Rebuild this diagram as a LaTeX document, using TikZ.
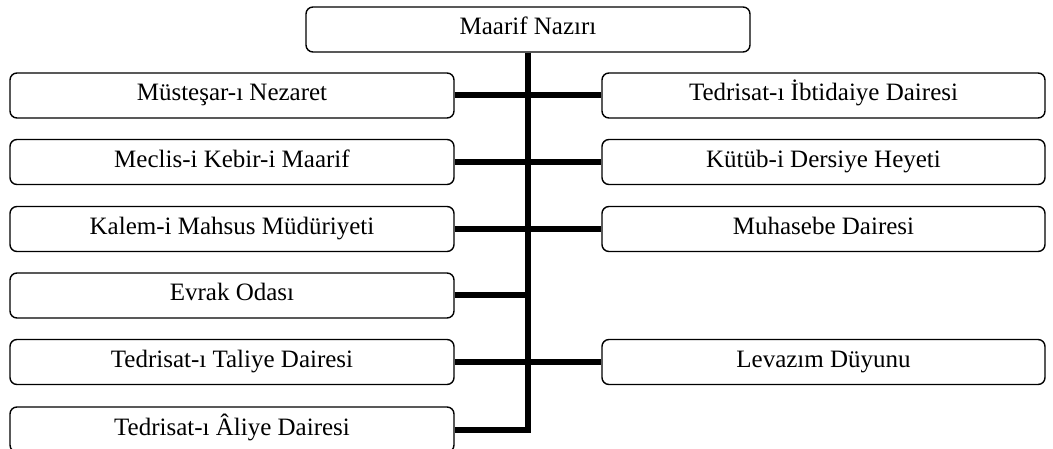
\documentclass[tikz,border=0pt]{standalone}
\usepackage{fontspec}
\setmainfont{Liberation Serif}
\usepackage{tikz}

\begin{document}
\begin{tikzpicture}[x=1pt,y=1pt,yscale=-1,xscale=1,
  unit/.style={draw, rounded corners=7pt, line width=1.4pt, minimum width=444pt, minimum height=45pt, inner sep=0pt, text height=17pt, text depth=6pt, font=\fontsize{25}{30}\selectfont},
  link/.style={line width=6pt}]
%set diagram left start at 0, and has height of 449
\useasboundingbox (0,0) rectangle (1053,449);

% Text Node
\node [unit] (nazir) at (528,29.5) {Maarif Nazırı};
% Text Node
\node [unit] (mustesar) at (232,95.5) {Müsteşar-ı Nezaret};
% Text Node
\node [unit] (meclis) at (232,162) {Meclis-i Kebir-i Maarif};
% Text Node
\node [unit] (kalem) at (232,229) {Kalem-i Mahsus Müdüriyeti};
% Text Node
\node [unit] (evrak) at (232,295.5) {Evrak Odası};
% Text Node
\node [unit] (taliye) at (232,362) {Tedrisat-ı Taliye Dairesi};
% Text Node
\node [unit] (aliye) at (232,429.5) {Tedrisat-ı Âliye Dairesi};
% Text Node
\node [unit, minimum width=443pt] (ibtidai) at (823.5,95.5) {Tedrisat-ı İbtidaiye Dairesi};
% Text Node
\node [unit, minimum width=443pt] (kutub) at (823.5,162) {Kütüb-i Dersiye Heyeti};
% Text Node
\node [unit, minimum width=443pt] (muhasebe) at (823.5,229) {Muhasebe Dairesi};
% Text Node
\node [unit, minimum width=443pt] (levazim) at (823.5,362) {Levazım Düyunu};

%Straight Lines
\draw [link] (nazir.south) -- (nazir.south |- aliye.east) -- (aliye.east) ;
%Straight Lines
\draw [link] (mustesar.east) -- (ibtidai.west) ;
%Straight Lines
\draw [link] (meclis.east) -- (kutub.west) ;
%Straight Lines
\draw [link] (kalem.east) -- (muhasebe.west) ;
%Straight Lines
\draw [link] (evrak.east) -- (evrak.east -| nazir.south) ;
%Straight Lines
\draw [link] (taliye.east) -- (levazim.west) ;

\end{tikzpicture}
\end{document}
